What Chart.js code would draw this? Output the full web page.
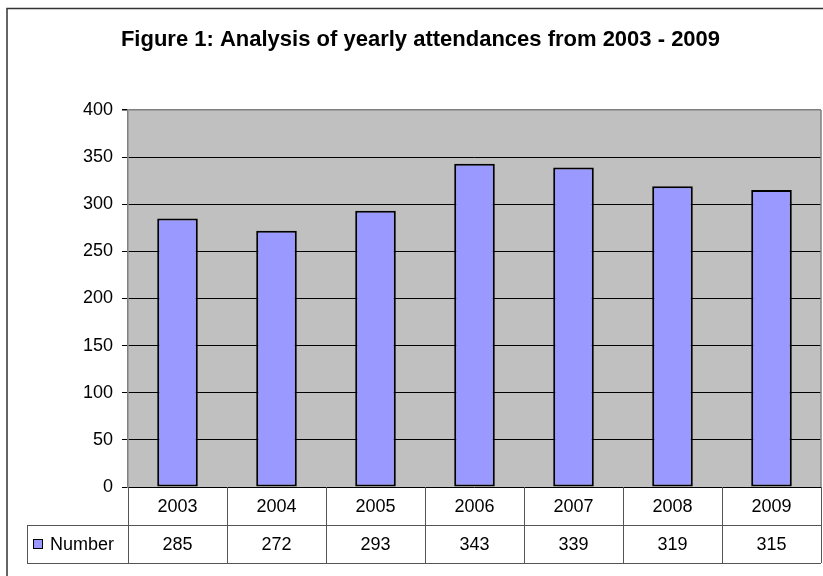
<!DOCTYPE html>
<html>
<head>
<meta charset="utf-8">
<script src="https://cdn.jsdelivr.net/npm/chart.js@4.4.0/dist/chart.umd.min.js"></script>
<style>
  html, body { margin: 0; padding: 0; background: #fff; }
  #wrap { width: 823px; height: 576px; }
</style>
</head>
<body>
<div id="wrap"><canvas id="chart"></canvas></div>
<script>
// Data
const years = ['2003', '2004', '2005', '2006', '2007', '2008', '2009'];
const attendances = [285, 272, 293, 343, 339, 319, 315];
const seriesName = 'Number';
const yTicks = [0, 50, 100, 150, 200, 250, 300, 350, 400];

const FONT = "'Liberation Sans', Arial, sans-serif";
const BAR_FILL = '#9999FF';
const PLOT_BG = '#C0C0C0';
const PLOT_EDGE = '#808080';
const TABLE_LINE = '#555555';

// Gray plot area, outer frame and plot edge on the right
const plotBackground = {
  id: 'plotBackground',
  beforeDraw(chart) {
    const { ctx, chartArea: a } = chart;
    ctx.save();
    ctx.fillStyle = '#fff';
    ctx.fillRect(0, 0, chart.width, chart.height);
    ctx.strokeStyle = '#333';
    ctx.lineWidth = 1.5;
    ctx.strokeRect(7, 8.5, 840, 600);
    ctx.fillStyle = PLOT_BG;
    ctx.fillRect(a.left, a.top, a.right - a.left, a.bottom - a.top);
    ctx.restore();
  },
  afterDatasetsDraw(chart) {
    const { ctx, chartArea: a } = chart;
    ctx.save();
    ctx.strokeStyle = PLOT_EDGE;
    ctx.lineWidth = 1.5;
    ctx.beginPath();
    ctx.moveTo(a.right, a.top);
    ctx.lineTo(a.right, a.bottom);
    ctx.stroke();
    ctx.restore();
  }
};

// Data table under the plot (category row + value row with legend key)
const dataTable = {
  id: 'dataTable',
  afterDraw(chart) {
    const { ctx, chartArea: a } = chart;
    const x = chart.scales.x;
    const rowH = 38;
    const r1 = a.bottom, r2 = a.bottom + rowH, r3 = a.bottom + rowH * 2;
    const legendLeft = 27;
    const half = (x.getPixelForValue(1) - x.getPixelForValue(0)) / 2;

    ctx.save();
    ctx.strokeStyle = TABLE_LINE;
    ctx.lineWidth = 1;
    ctx.beginPath();
    // horizontal rules
    ctx.moveTo(legendLeft, r2 + 0.5); ctx.lineTo(a.right, r2 + 0.5);
    ctx.moveTo(legendLeft, r3 + 0.5); ctx.lineTo(a.right, r3 + 0.5);
    // legend cell left edge
    ctx.moveTo(legendLeft + 0.5, r2); ctx.lineTo(legendLeft + 0.5, r3);
    // column separators
    for (let i = 0; i <= years.length; i++) {
      const px = Math.round(x.getPixelForValue(i) - half) + 0.5;
      ctx.moveTo(px, r1); ctx.lineTo(px, r3);
    }
    ctx.stroke();

    ctx.fillStyle = '#000';
    ctx.font = '18px ' + FONT;
    ctx.textAlign = 'center';
    ctx.textBaseline = 'middle';
    years.forEach((y, i) => {
      const px = x.getPixelForValue(i);
      ctx.fillText(y, px, (r1 + r2) / 2 + 1);
      ctx.fillText(String(attendances[i]), px, (r2 + r3) / 2 + 1);
    });

    // legend key
    ctx.fillStyle = BAR_FILL;
    ctx.fillRect(33, (r2 + r3) / 2 - 4, 9, 9);
    ctx.strokeStyle = '#000';
    ctx.lineWidth = 1;
    ctx.strokeRect(33.5, (r2 + r3) / 2 - 4.5, 9, 9);
    ctx.fillStyle = '#000';
    ctx.textAlign = 'left';
    ctx.fillText(seriesName, 50, (r2 + r3) / 2 + 1);
    ctx.restore();
  }
};

new Chart(document.getElementById('chart'), {
  type: 'bar',
  data: {
    labels: years,
    datasets: [{
      label: seriesName,
      data: attendances,
      backgroundColor: BAR_FILL,
      borderColor: '#000',
      borderWidth: 2,
      borderSkipped: false,
      barPercentage: 0.41,
      categoryPercentage: 1.0
    }]
  },
  options: {
    responsive: true,
    maintainAspectRatio: false,
    animation: false,
    devicePixelRatio: 1,
    layout: { padding: { left: 20, right: 2, top: 0, bottom: 89 } },
    plugins: {
      legend: { display: false },
      tooltip: { enabled: false },
      title: {
        display: true,
        text: 'Figure 1: Analysis of yearly attendances from 2003 - 2009',
        color: '#000',
        font: { family: FONT, size: 22, weight: 'bold' },
        padding: { top: 27, bottom: 56.6 }
      }
    },
    scales: {
      x: {
        display: false
      },
      y: {
        min: 0,
        max: 400,
        afterFit(scale) { scale.width = 108; },
        afterBuildTicks(scale) { scale.ticks = yTicks.map(v => ({ value: v })); },
        grid: {
          color: ctx => (ctx.tick && ctx.tick.value === 400 ? PLOT_EDGE : '#000'),
          lineWidth: ctx => (ctx.tick && ctx.tick.value === 400 ? 1.5 : 1),
          tickColor: '#000',
          tickLength: 6
        },
        border: { display: true, color: PLOT_EDGE, width: 1.5 },
        ticks: {
          color: '#000',
          padding: 9,
          font: { family: FONT, size: 18 }
        }
      }
    }
  },
  plugins: [plotBackground, dataTable]
});
</script>
</body>
</html>
